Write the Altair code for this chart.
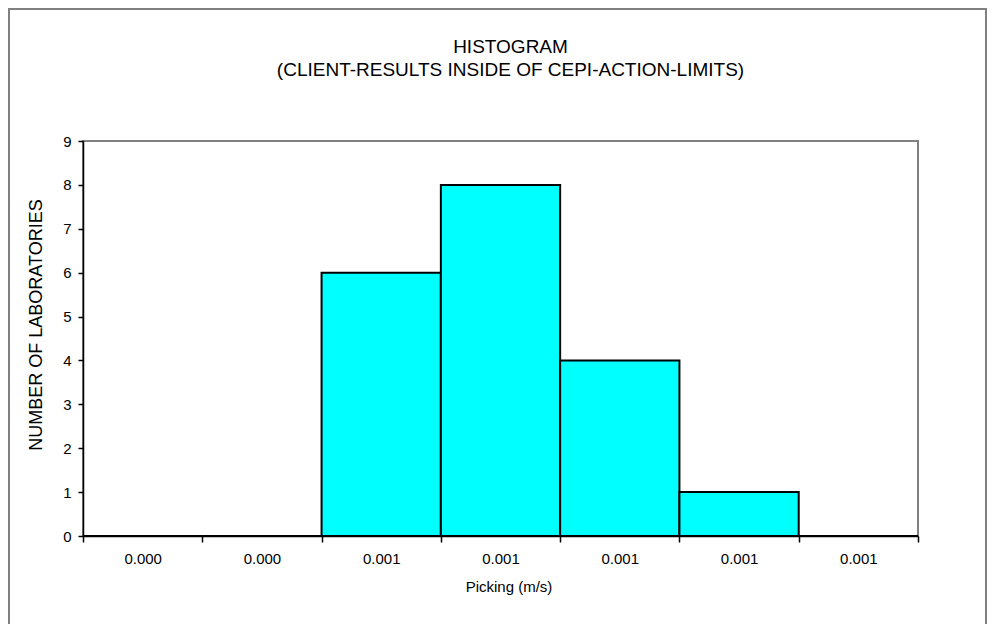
import altair as alt
import pandas as pd

bin_labels = ["0.000", "0.000", "0.001", "0.001", "0.001", "0.001", "0.001"]
counts = [0, 0, 6, 8, 4, 1, 0]
y_ticks = [0, 1, 2, 3, 4, 5, 6, 7, 8, 9]

df = pd.DataFrame({"idx": list(range(len(counts))), "count": counts})

W, H = 835, 395
FONT = "Liberation Sans"
label_js = "[" + ",".join("'%s'" % s for s in bin_labels) + "][datum.value]"

bars = alt.Chart(df).mark_bar(
    color="#00FFFF", stroke="#000000", strokeWidth=2
).encode(
    x=alt.X("idx:O",
            scale=alt.Scale(paddingInner=0, paddingOuter=0),
            axis=alt.Axis(title="Picking (m/s)", labelAngle=0, labelExpr=label_js,
                          tickBand="extent", tickSize=6, labelPadding=9,
                          titlePadding=13, labelFontSize=15, titleFontSize=15,
                          titleX=W / 2 + 8)),
    y=alt.Y("count:Q",
            scale=alt.Scale(domain=[0, 9], nice=False),
            axis=alt.Axis(title="NUMBER OF LABORATORIES", values=y_ticks,
                          tickSize=5, labelPadding=7, titlePadding=17, grid=False,
                          labelFontSize=15, titleFontSize=18, titleY=H / 2 - 14)),
)

frame = alt.Chart(df).mark_rect(
    filled=False, stroke="#808080", strokeWidth=2
).encode(
    x=alt.value(-74),
    x2=alt.value(W + 68),
    y=alt.value(-132),
    y2=alt.value(H + 150),
)

chart = alt.layer(frame, bars).properties(
    width=W, height=H,
    autosize=alt.AutoSizeParams(type="none"),
    padding={"left": 75, "top": 133, "right": 69, "bottom": 88},
    title=alt.TitleParams(
        text=["HISTOGRAM", "(CLIENT-RESULTS INSIDE OF CEPI-ACTION-LIMITS)"],
        font=FONT, fontSize=19, fontWeight="normal", color="#000000",
        anchor="middle", frame="group", dx=10, offset=-72, lineHeight=23,
    ),
).configure_view(
    stroke="#808080", strokeWidth=2
).configure_axis(
    labelFont=FONT, titleFont=FONT,
    titleFontWeight="normal", labelColor="#000000", titleColor="#000000",
    domainColor="#000000", tickColor="#000000", domainWidth=1.5, tickWidth=1.5,
)

chart.save("out.html", embed_options={"renderer": "svg", "actions": False})
